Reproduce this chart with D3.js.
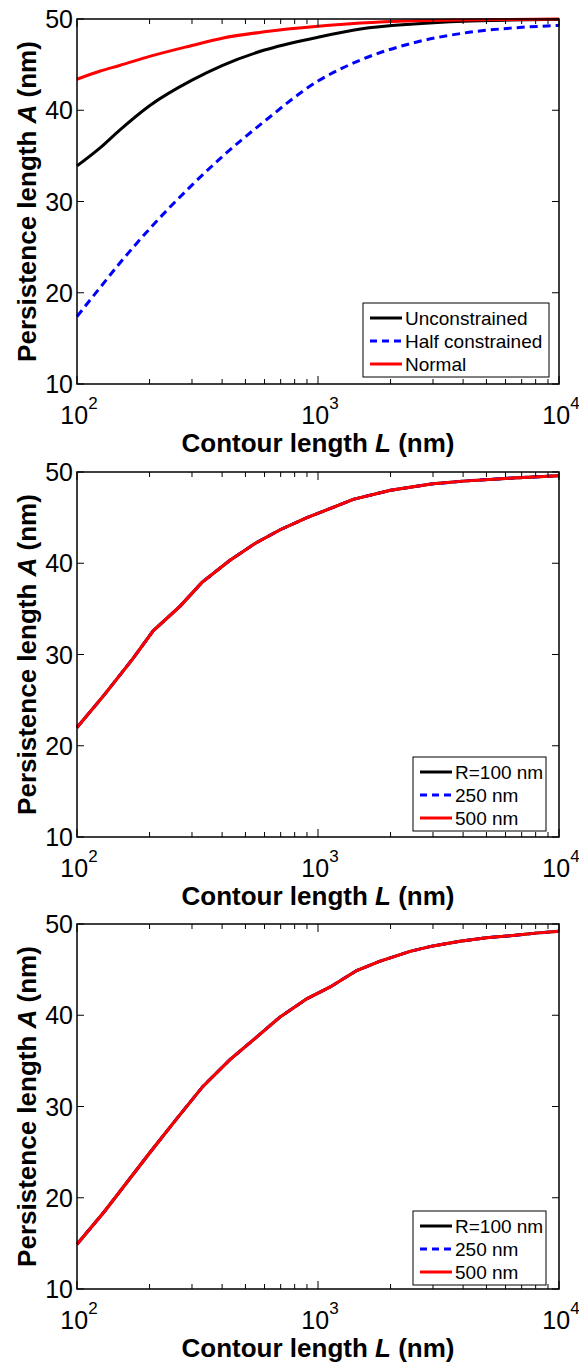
<!DOCTYPE html>
<html>
<head>
<meta charset="utf-8">
<script src="https://cdn.jsdelivr.net/npm/d3@7"></script>
<style>
  body { margin: 0; background: #fff; }
  svg { display: block; font-family: "Liberation Sans", Arial, sans-serif; }
</style>
</head>
<body>
<svg id="chart" width="579" height="1362"></svg>
<script>
// values (persistence length A in nm vs contour length L in nm)

// top panel
var lenTop = [100, 125, 150, 200, 300, 400, 600, 1000, 1500, 2500, 4000, 6300, 10000];
var unconstrained = [33.9, 35.9, 37.8, 40.5, 43.3, 44.9, 46.6, 48.0, 48.9, 49.45, 49.75, 49.88, 49.95];
var halfConstrained = [17.4, 20.6, 23.2, 27.0, 31.8, 34.9, 38.8, 43.2, 45.5, 47.4, 48.45, 49.0, 49.3];
var normal = [43.4, 44.3, 44.9, 45.9, 47.1, 47.9, 48.6, 49.2, 49.55, 49.8, 49.9, 49.95, 50.0];

// middle panel
var lenMid = [100, 130, 170, 207, 268, 330, 430, 550, 700, 900, 1100, 1400, 2000, 3000, 4000, 6000, 10000];
var midR100 = [22.0, 25.6, 29.5, 32.6, 35.3, 37.9, 40.3, 42.2, 43.7, 45.0, 45.9, 47.0, 48.0, 48.7, 49.0, 49.3, 49.6];
var midR250 = [22.0, 25.6, 29.5, 32.6, 35.3, 37.9, 40.3, 42.2, 43.7, 45.0, 45.9, 47.0, 48.0, 48.7, 49.0, 49.3, 49.6];
var midR500 = [22.0, 25.6, 29.5, 32.6, 35.3, 37.9, 40.3, 42.2, 43.7, 45.0, 45.9, 47.0, 48.0, 48.7, 49.0, 49.3, 49.6];

// bottom panel
var lenBot = [100, 130, 200, 260, 333, 430, 556, 695, 898, 1124, 1447, 1800, 2410, 3000, 3880, 5000, 6266, 8000, 10000];
var botR100 = [14.9, 18.5, 24.9, 28.7, 32.2, 35.1, 37.6, 39.8, 41.8, 43.1, 44.9, 45.9, 47.0, 47.6, 48.1, 48.5, 48.7, 49.0, 49.2];
var botR250 = [14.9, 18.5, 24.9, 28.7, 32.2, 35.1, 37.6, 39.8, 41.8, 43.1, 44.9, 45.9, 47.0, 47.6, 48.1, 48.5, 48.7, 49.0, 49.2];
var botR500 = [14.9, 18.5, 24.9, 28.7, 32.2, 35.1, 37.6, 39.8, 41.8, 43.1, 44.9, 45.9, 47.0, 47.6, 48.1, 48.5, 48.7, 49.0, 49.2];

var yTicks = [10, 20, 30, 40, 50];
var xMajor = [100, 1000, 10000];
var xExp = ["2", "3", "4"];
var namesTop = ["Unconstrained", "Half constrained", "Normal"];
var namesR = ["R=100 nm", "250 nm", "500 nm"];

var styles = [
  { color: "#000", dash: null },
  { color: "#0000ff", dash: "8,5" },
  { color: "#ff0000", dash: null }
];

var svg = d3.select("#chart");
var left = 77, right = 559, h = 365;

var x = d3.scaleLog().domain([100, 10000]).range([left, right]);

function drawPanel(top, lens, series, names, legend) {
  var y = d3.scaleLinear().domain([10, 50]).range([top + h, top]);
  var g = svg.append("g");

  var line = d3.line()
    .x(function(d) { return x(d[0]); })
    .y(function(d) { return y(d[1]); })
    .curve(legend.smooth ? d3.curveMonotoneX : d3.curveLinear);

  series.forEach(function(vals, i) {
    var pts = lens.map(function(l, j) { return [l, vals[j]]; });
    g.append("path")
      .datum(pts)
      .attr("fill", "none")
      .attr("stroke", styles[i].color)
      .attr("stroke-width", 3)
      .attr("stroke-dasharray", styles[i].dash)
      .attr("d", line);
  });

  // box
  g.append("rect")
    .attr("x", left).attr("y", top)
    .attr("width", right - left).attr("height", h)
    .attr("fill", "none").attr("stroke", "#000").attr("stroke-width", 1.5);

  // x ticks (inward, bottom and top)
  var minor = [];
  [100, 1000].forEach(function(dec) {
    for (var k = 2; k <= 9; k++) minor.push(dec * k);
  });
  var ticks = xMajor.map(function(v) { return { v: v, len: 8 }; })
    .concat(minor.map(function(v) { return { v: v, len: 5 }; }));
  ticks.forEach(function(t) {
    var px = x(t.v);
    g.append("line").attr("x1", px).attr("x2", px)
      .attr("y1", top + h).attr("y2", top + h - t.len)
      .attr("stroke", "#000").attr("stroke-width", 1);
    g.append("line").attr("x1", px).attr("x2", px)
      .attr("y1", top).attr("y2", top + t.len)
      .attr("stroke", "#000").attr("stroke-width", 1);
  });

  // y ticks (inward, left and right)
  yTicks.forEach(function(v) {
    var py = y(v);
    g.append("line").attr("x1", left).attr("x2", left + 7)
      .attr("y1", py).attr("y2", py).attr("stroke", "#000").attr("stroke-width", 1);
    g.append("line").attr("x1", right).attr("x2", right - 7)
      .attr("y1", py).attr("y2", py).attr("stroke", "#000").attr("stroke-width", 1);
    g.append("text")
      .attr("x", left - 4).attr("y", py)
      .attr("dy", "0.36em")
      .attr("text-anchor", "end")
      .attr("font-size", 25)
      .text(v);
  });

  // x tick labels 10^n
  xMajor.forEach(function(v, i) {
    var t = g.append("text")
      .attr("x", x(v) + 2).attr("y", top + h + 40)
      .attr("text-anchor", "middle")
      .attr("font-size", 25);
    t.append("tspan").text("10");
    t.append("tspan").attr("dy", -15).attr("font-size", 17).text(xExp[i]);
  });

  // axis labels
  var xl = g.append("text")
    .attr("x", (left + right) / 2).attr("y", top + h + 68)
    .attr("text-anchor", "middle")
    .attr("font-size", 26).attr("font-weight", "bold");
  xl.append("tspan").text("Contour length ");
  xl.append("tspan").attr("font-style", "italic").text("L");
  xl.append("tspan").text(" (nm)");

  var yl = g.append("text")
    .attr("transform", "translate(36," + (top + h / 2) + ") rotate(-90)")
    .attr("text-anchor", "middle")
    .attr("font-size", 26).attr("font-weight", "bold");
  yl.append("tspan").text("Persistence length ");
  yl.append("tspan").attr("font-style", "italic").text("A");
  yl.append("tspan").text(" (nm)");

  // legend
  var lg = g.append("g");
  lg.append("rect")
    .attr("x", legend.x).attr("y", top + legend.dy)
    .attr("width", legend.w).attr("height", 74)
    .attr("fill", "#fff").attr("stroke", "#000").attr("stroke-width", 1);
  names.forEach(function(name, i) {
    var ry = top + legend.dy + 15 + i * 23;
    lg.append("line")
      .attr("x1", legend.x + 7).attr("x2", legend.x + 39)
      .attr("y1", ry).attr("y2", ry)
      .attr("stroke", styles[i].color)
      .attr("stroke-width", 3)
      .attr("stroke-dasharray", styles[i].dash ? "7,5" : null);
    lg.append("text")
      .attr("x", legend.x + 42).attr("y", ry)
      .attr("dy", "0.36em")
      .attr("font-size", 19)
      .text(name);
  });
}

drawPanel(19, lenTop, [unconstrained, halfConstrained, normal], namesTop,
  { x: 363, w: 186, dy: 284, smooth: true });
drawPanel(472, lenMid, [midR100, midR250, midR500], namesR,
  { x: 413, w: 133, dy: 285, smooth: false });
drawPanel(924, lenBot, [botR100, botR250, botR500], namesR,
  { x: 413, w: 133, dy: 287, smooth: false });
</script>
</body>
</html>
